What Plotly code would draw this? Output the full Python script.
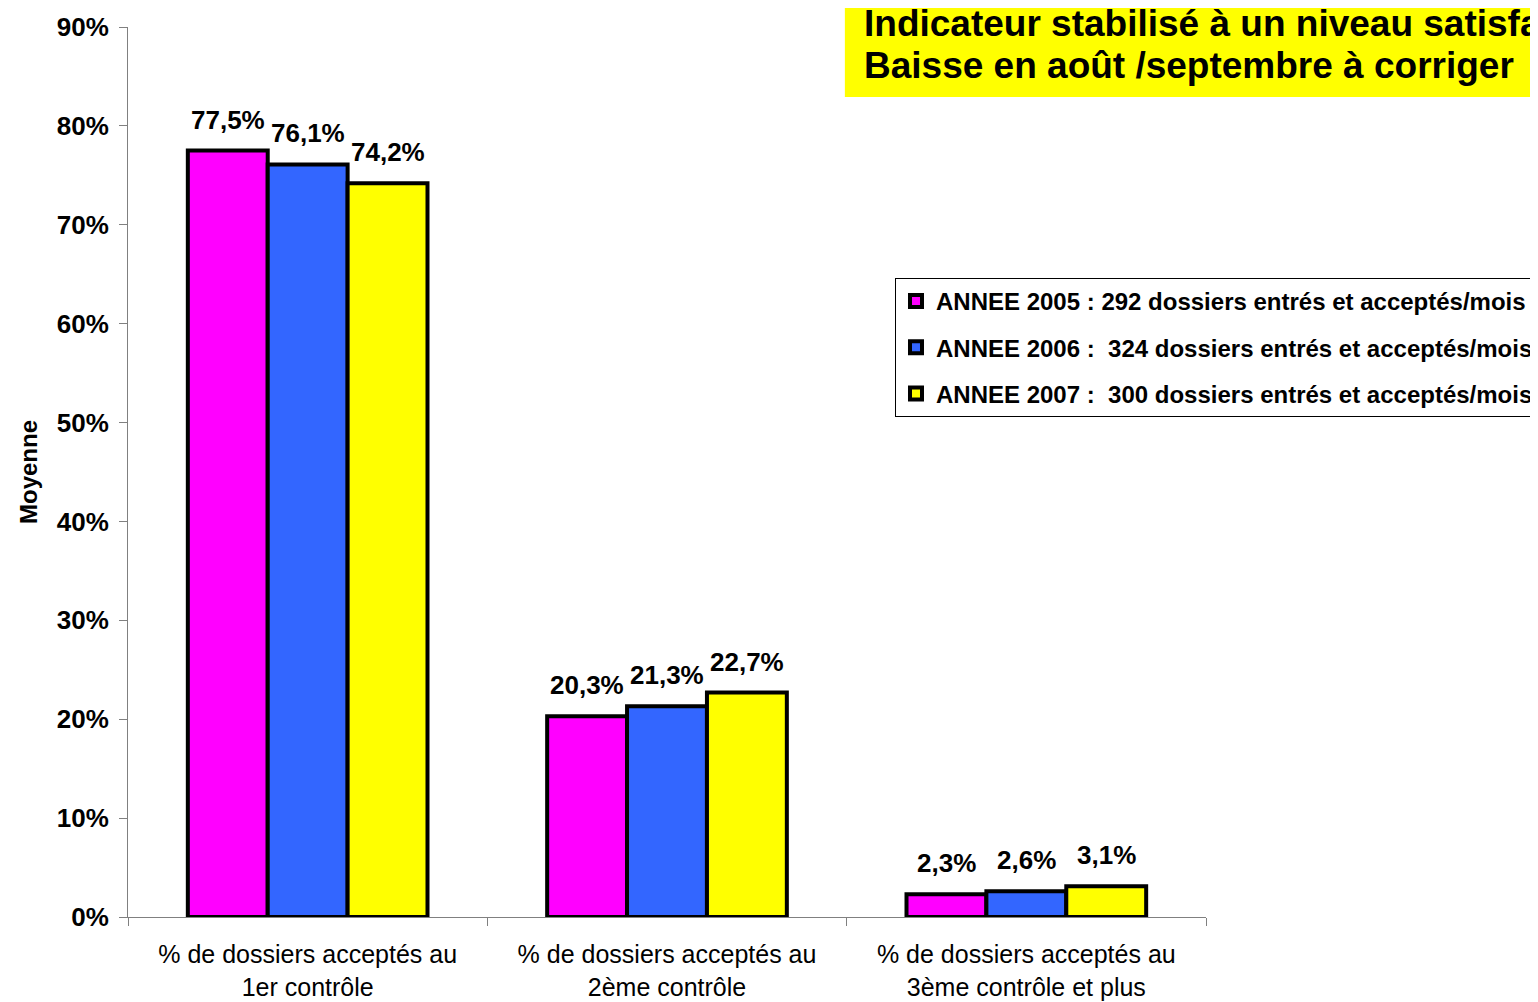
import plotly.graph_objects as go

# données
categories = ['% de dossiers acceptés au<br>1er contrôle',
              '% de dossiers acceptés au<br>2ème contrôle',
              '% de dossiers acceptés au<br>3ème contrôle et plus']
annee_2005 = [0.775, 0.203, 0.023]
annee_2006 = [0.761, 0.213, 0.026]
annee_2007 = [0.742, 0.227, 0.031]
noms = ['ANNEE 2005 : 292 dossiers entrés et acceptés/mois',
        'ANNEE 2006 :\u00a0 324 dossiers entrés et acceptés/mois',
        'ANNEE 2007 :\u00a0 300 dossiers entrés et acceptés/mois']
couleurs = ['#FF00FF', '#3366FF', '#FFFF00']
titre = ['Indicateur stabilisé à un niveau satisfaisant',
         'Baisse en août /septembre à corriger']

# la page html ajoute une marge de 8px autour du graphique
W, H = 1530, 994
marg = dict(l=120, r=332, t=19, b=85)
bargap = 0.333
font = 'Arial, Liberation Sans, sans-serif'

fig = go.Figure()
series = [annee_2005, annee_2006, annee_2007]
for i, (vals, nom, col) in enumerate(zip(series, noms, couleurs)):
    fig.add_trace(go.Bar(x=categories, y=vals, name=nom,
                         legendgroup=str(i),
                         marker=dict(color=col, line=dict(color='black', width=4))))

# étiquettes de valeurs (décalées selon la largeur des barres)
plot_w = W - marg['l'] - marg['r']
bar_w = plot_w / len(categories) * (1 - bargap) / len(series)
for i, vals in enumerate(series):
    for cat, v in zip(categories, vals):
        fig.add_annotation(x=cat, y=v, xref='x', yref='y',
                           text=f'{v * 100:.1f}%'.replace('.', ','),
                           showarrow=False, yanchor='bottom', yshift=14,
                           xshift=(i - 1) * bar_w,
                           font=dict(family=font, size=26, color='black', weight='bold'))

# encadré jaune du titre
fig.add_shape(type='rect', xref='paper', yref='paper',
              x0=0.665, x1=1.31, y0=0.9213, y1=1.04,
              fillcolor='#FFFF00', line=dict(width=0), layer='above')
for txt, yp in zip(titre, [1.0035, 0.9562]):
    fig.add_annotation(x=0.681, y=yp, xref='paper', yref='paper', text=txt,
                       showarrow=False, xanchor='left', yanchor='middle',
                       font=dict(family=font, size=37, color='black', weight='bold'))

fig.update_layout(
    width=W, height=H,
    margin=dict(**marg, autoexpand=False),
    paper_bgcolor='white', plot_bgcolor='white',
    barmode='group', bargap=bargap, bargroupgap=0,
    font=dict(family=font, color='black'),
    showlegend=True,
    legend=dict(x=0.7115, y=0.718, xanchor='left', yanchor='top',
                bordercolor='black', borderwidth=1, bgcolor='white',
                font=dict(family=font, size=24, color='black', weight='bold'),
                tracegroupgap=12, traceorder='grouped', itemwidth=30),
    yaxis=dict(range=[0, 0.9], dtick=0.1, tickformat='.0%',
               showgrid=False, zeroline=False,
               showline=True, linecolor='#808080', linewidth=1,
               ticks='outside', ticklen=8, tickcolor='#808080',
               ticklabelstandoff=5,
               tickfont=dict(family=font, size=26, color='black', weight='bold'),
               title=dict(text='Moyenne', standoff=12,
                          font=dict(family=font, size=24, color='black', weight='bold'))),
    xaxis=dict(showgrid=False, showline=True, linecolor='#808080', linewidth=1,
               ticks='outside', ticklen=8, tickcolor='#808080', tickson='boundaries',
               ticklabelstandoff=15,
               tickfont=dict(family=font, size=25, color='black')),
)

fig.write_html('out.html')
